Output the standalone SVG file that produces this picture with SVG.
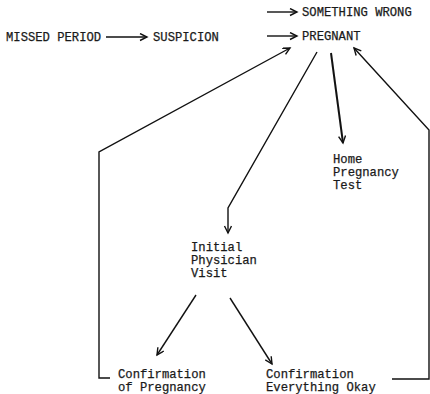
<svg xmlns="http://www.w3.org/2000/svg" width="430" height="394" viewBox="0 0 430 394">
<defs>
<marker id="arr" markerWidth="10" markerHeight="10" refX="8" refY="4" orient="auto" markerUnits="userSpaceOnUse">
<path d="M1,0.5 L8,4 L1,7.5" fill="none" stroke="#111" stroke-width="1.4"/>
</marker>
<style>
text{font-family:"Liberation Mono","Courier New",monospace;font-size:12.2px;fill:#1a1a1a;stroke:#1a1a1a;stroke-width:0.25}
.c{fill:none;stroke:#111;stroke-width:1.4;marker-end:url(#arr)}
</style>
</defs>
<rect width="430" height="394" fill="#fff"/>
<g id="connectors">
<line class="c" x1="106" y1="37" x2="147" y2="37"/>
<line class="c" x1="267" y1="12" x2="297" y2="12"/>
<line class="c" x1="267" y1="36" x2="297" y2="36"/>
<polyline class="c" points="110,378 99,378 99,152 290,48"/>
<polyline class="c" points="317,52 228,208 228,233"/>
<line class="c" x1="331" y1="53" x2="343" y2="143" style="stroke-width:2"/>
<polyline class="c" points="392,379 429,379 429,130 354,48"/>
<line class="c" x1="196" y1="295" x2="157" y2="355"/>
<line class="c" x1="230" y1="298" x2="272" y2="364"/>
</g>
<g id="missed-period"><text x="6" y="41">MISSED PERIOD</text></g>
<g id="suspicion"><text x="153" y="41">SUSPICION</text></g>
<g id="something-wrong"><text x="302" y="16">SOMETHING WRONG</text></g>
<g id="pregnant"><text x="302" y="40">PREGNANT</text></g>
<g id="home-test"><text x="333" y="163">Home</text><text x="333" y="176">Pregnancy</text><text x="333" y="189">Test</text></g>
<g id="initial-visit"><text x="191" y="251">Initial</text><text x="191" y="264">Physician</text><text x="191" y="277">Visit</text></g>
<g id="conf-pregnancy"><text x="118" y="378">Confirmation</text><text x="118" y="391">of Pregnancy</text></g>
<g id="conf-okay"><text x="266" y="378">Confirmation</text><text x="266" y="391">Everything Okay</text></g>
</svg>
